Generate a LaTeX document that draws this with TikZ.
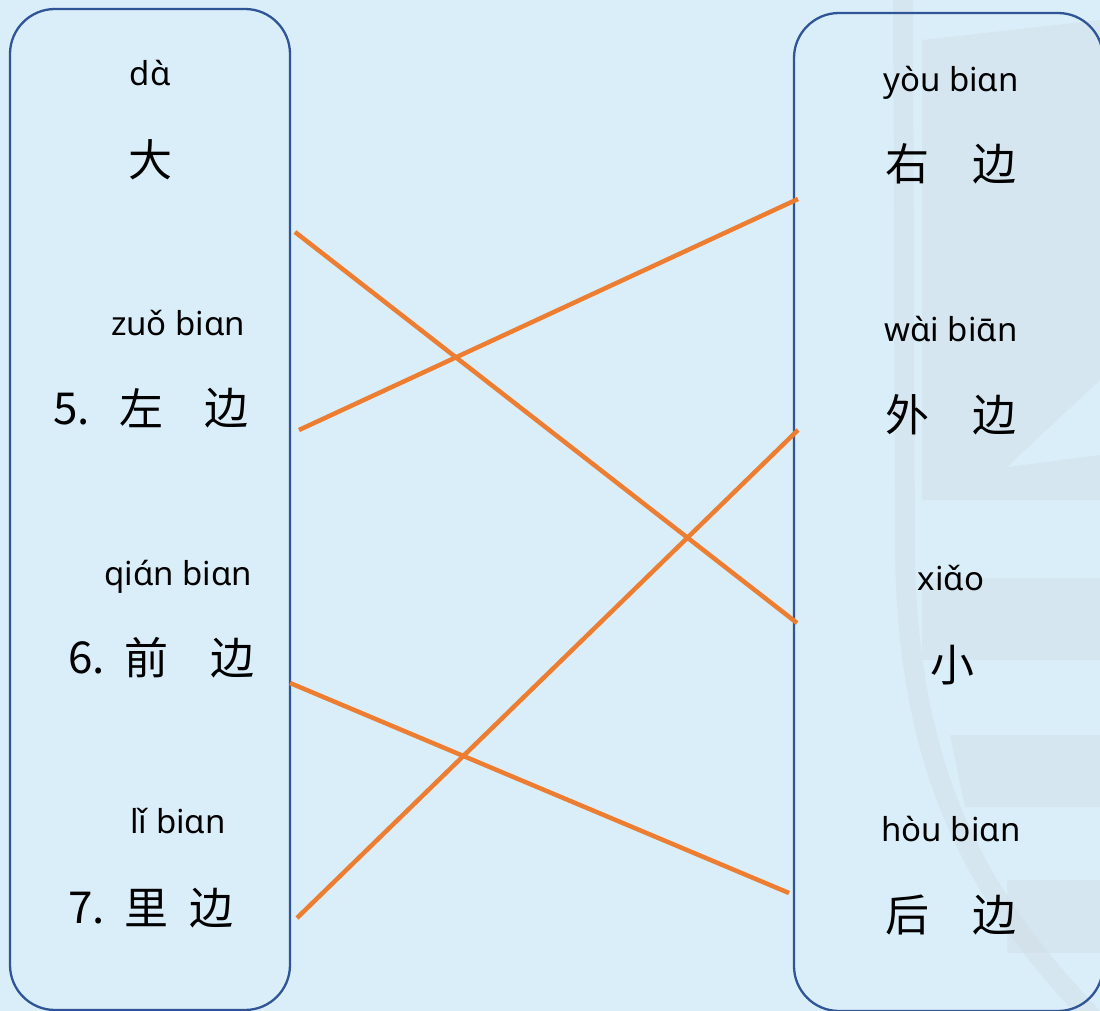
\documentclass[tikz,border=0pt]{standalone}
\usepackage{fontspec}
\newfontfamily\cjk{Noto Sans CJK SC}
\newfontfamily\py{Noto Sans}
\definecolor{bgblue}{HTML}{DAEEF9}
\definecolor{boxblue}{HTML}{2F5597}
\definecolor{linkorange}{HTML}{ED7D31}
\definecolor{wmgrey}{HTML}{CFD9E1}
\begin{document}
\begin{tikzpicture}[x=1pt,y=-1pt,
  box/.style={draw=boxblue, line width=2.3pt, rounded corners=45pt},
  link/.style={draw=linkorange, line width=4.5pt},
  han/.style={font=\cjk\fontsize{44}{44}\selectfont, inner sep=0pt, text=black},
  pin/.style={font=\py\fontsize{33}{33}\selectfont, inner sep=0pt, anchor=base, text=black},
  num/.style={font=\cjk\fontsize{44}{44}\selectfont, inner sep=0pt, anchor=base west, text=black},
  wm/.style={fill=wmgrey, fill opacity=0.35, draw=none}]
\useasboundingbox (0,0) rectangle (1100,1011);
\clip (0,0) rectangle (1100,1011);
\fill[bgblue] (0,0) rectangle (1100,1011);
% faint watermark
\draw[wmgrey, opacity=0.35, line width=20pt] (903,-5) -- (905,560) .. controls (910,780) and (980,900) .. (1095,1020);
\path[wm] (922,40) -- (1100,20) -- (1100,380) -- (1007,467) -- (1100,455) -- (1100,500) -- (922,500) -- cycle;
\path[wm] (922,578) rectangle (1100,660);
\path[wm] (950,735) -- (1100,735) -- (1100,807) -- (965,807) -- cycle;
\path[wm] (1007,880) rectangle (1100,953);
% boxes
\draw[box] (10,9) rectangle (290,1010);
\draw[box] (794,13) rectangle (1103,1011);
% left column
\node[pin] (pda) at (150,86) {dɑ̀};
\node[han] (hda) at (150,160) {大};
\node[pin] (pzuo) at (178,335) {zuǒ biɑn};
\node[num] (n5) at (53,424) {5.};
\node[han] (hzuo) at (141,408) {左};
\node[han] (hbian1) at (226,408) {边};
\node[pin] (pqian) at (178,585) {qiɑ́n biɑn};
\node[num] (n6) at (68,673) {6.};
\node[han] (hqian) at (146,658) {前};
\node[han] (hbian2) at (232,658) {边};
\node[pin] (pli) at (178,833) {lǐ biɑn};
\node[num] (n7) at (68,923) {7.};
\node[han] (hli) at (146,908) {里};
\node[han] (hbian3) at (211,908) {边};
% right column
\node[pin] (pyou) at (951,92) {yòu biɑn};
\node[han] (hyou) at (907,164) {右};
\node[han] (hbian4) at (994,164) {边};
\node[pin] (pwai) at (951,341) {wɑ̀i biɑ̄n};
\node[han] (hwai) at (907,415) {外};
\node[han] (hbian5) at (994,415) {边};
\node[pin] (pxiao) at (951,590) {xiɑ̌o};
\node[han] (hxiao) at (952,665) {小};
\node[pin] (phou) at (951,841) {hòu biɑn};
\node[han] (hhou) at (907,915) {后};
\node[han] (hbian6) at (994,915) {边};
% connector ends
\coordinate (a1) at (295,232); \coordinate (b1) at (797,623);
\coordinate (a2) at (299,430); \coordinate (b2) at (798,199);
\coordinate (a3) at (290,683); \coordinate (b3) at (789,893);
\coordinate (a4) at (297,918); \coordinate (b4) at (798,430);
\draw[link] (a1) -- (b1);
\draw[link] (a2) -- (b2);
\draw[link] (a3) -- (b3);
\draw[link] (a4) -- (b4);
\end{tikzpicture}
\end{document}
